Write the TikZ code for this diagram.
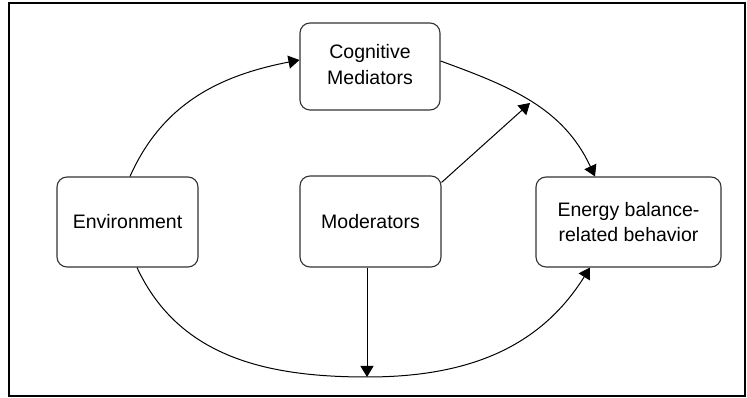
\documentclass[tikz,border=0pt]{standalone}
\usepackage{fontspec}
\setmainfont{Liberation Sans}
\usetikzlibrary{arrows.meta}
\begin{document}
\begin{tikzpicture}[x=1pt,y=1pt,
  box/.style={draw=black!80, line width=1.1pt, rounded corners=10pt, align=center,
    font=\fontsize{19.5}{25.5}\selectfont, inner sep=0pt},
  conn/.style={line width=1pt, -{Triangle[length=11pt,width=13pt]}}]
\useasboundingbox (0,0) rectangle (747,398);
\draw[line width=2pt] (9,2) rectangle (745,395);
\node[box, minimum width=140pt, minimum height=87pt] (cog) at (370,331.5)
  {\raisebox{5.5pt}{\begin{tabular}{@{}c@{}}Cognitive\\Mediators\end{tabular}}};
\node[box, minimum width=141pt, minimum height=90pt] (env) at (127.5,176) {Environment};
\node[box, minimum width=141pt, minimum height=91pt] (mod) at (370.5,176.5) {Moderators};
\node[box, minimum width=185pt, minimum height=90pt] (ebb) at (628.5,176)
  {Energy balance-\\related behavior};
\coordinate (mtip) at (530,295);
\coordinate (bot) at (367,21);
\draw[conn] ([xshift=2.5pt]env.north) to[out=66,in=191] ([yshift=6.5pt]cog.west);
\draw[conn] ([yshift=5.5pt]cog.east) to[out=-20,in=115] ([xshift=-33.5pt]ebb.north);
\draw[conn] ([yshift=-7pt]mod.north east) -- (mtip);
\draw[conn] ([xshift=-3.5pt]mod.south) -- (bot);
\draw[conn] ([xshift=9.5pt]env.south) to[out=-65,in=180] (bot)
  to[out=0,in=-122] ([xshift=-38.5pt]ebb.south);
\end{tikzpicture}
\end{document}
